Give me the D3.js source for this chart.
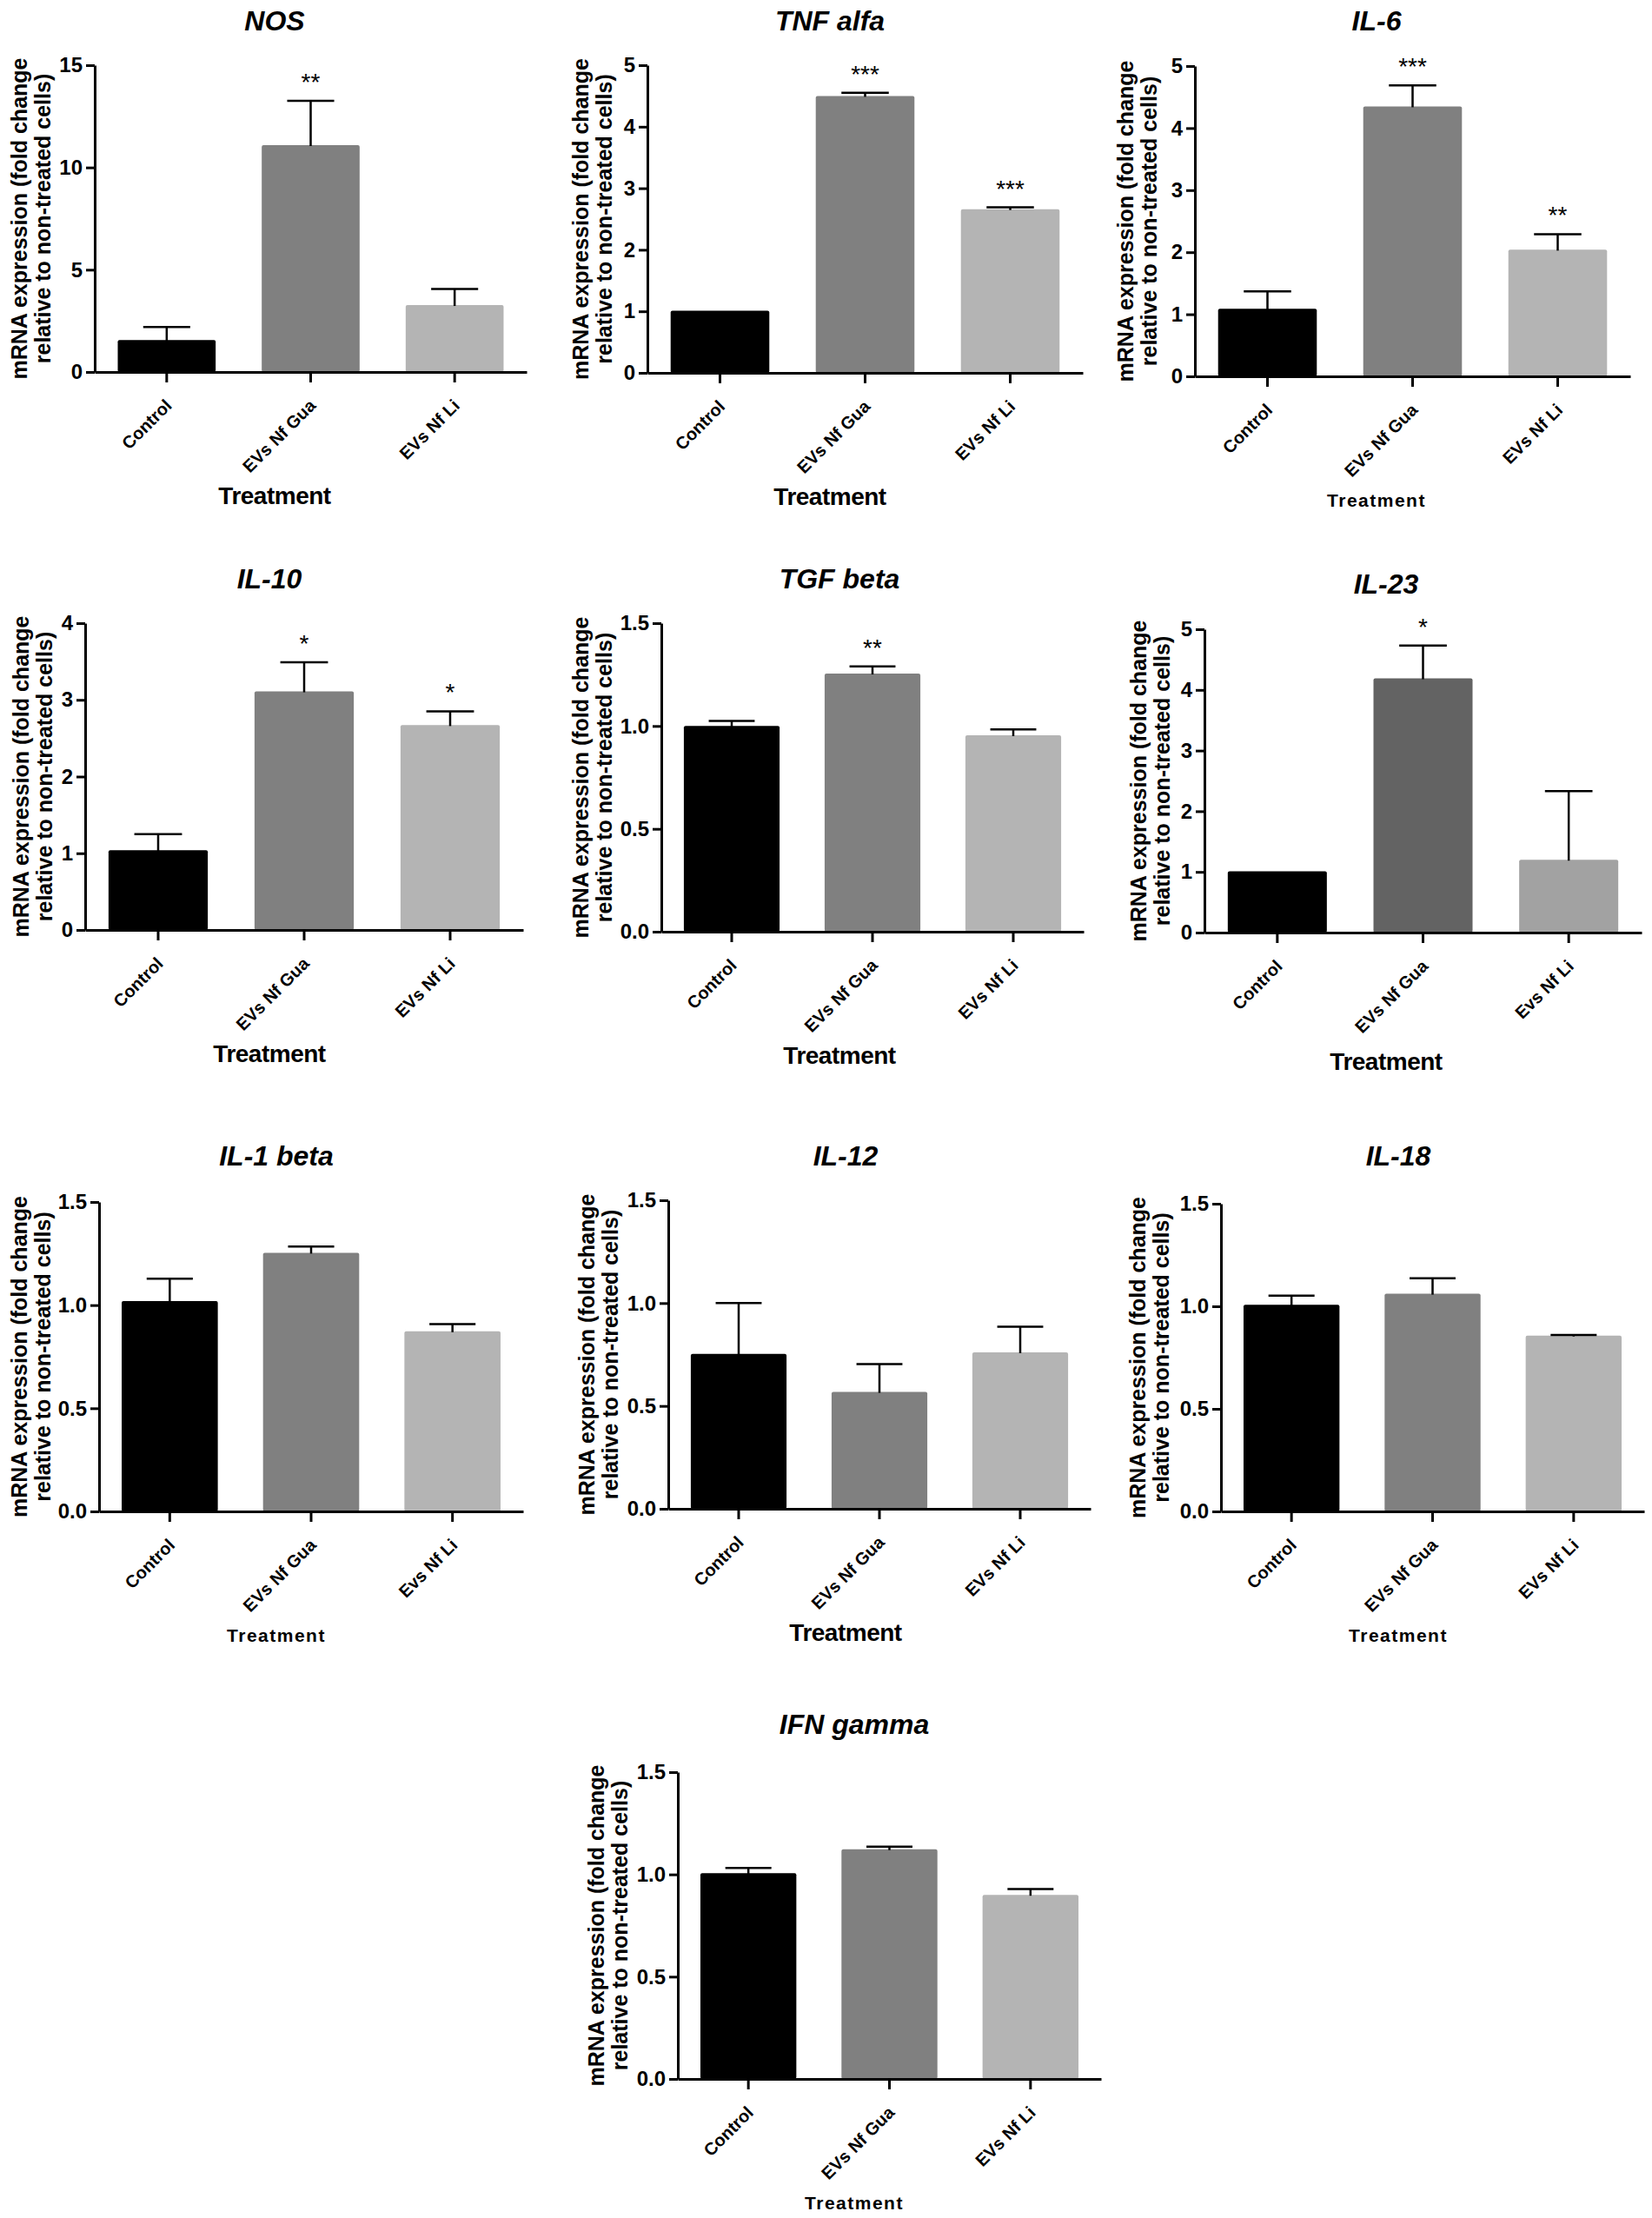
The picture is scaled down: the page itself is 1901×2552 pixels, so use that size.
<!DOCTYPE html>
<html><head><meta charset="utf-8">
<script src="https://cdn.jsdelivr.net/npm/d3@7"></script>
<style>
body{margin:0;background:#fff}
svg text{font-family:"Liberation Sans",Arial,Helvetica,sans-serif}
</style>
</head><body>
<svg id="chart" width="1901" height="2552"></svg>
<script>
// ---------- DATA ----------
const categories    = ["Control", "EVs Nf Gua", "EVs Nf Li"];
const categoriesAlt = ["Control", "EVs Nf Gua", "Evs Nf Li"];
const genes = ["NOS", "TNF alfa", "IL-6", "IL-10", "TGF beta", "IL-23", "IL-1 beta", "IL-12", "IL-18", "IFN gamma"];

const ticksNOS = [0, 5, 10, 15];
const ticks5   = [0, 1, 2, 3, 4, 5];
const ticks4   = [0, 1, 2, 3, 4];
const ticks15  = [0, 0.5, 1.0, 1.5];

const meanNOS = [1.56, 11.09, 3.27];   const semNOS = [0.64, 2.17, 0.79];   const sigNOS = ["", "**", ""];
const meanTNF = [1.01, 4.50, 2.66];    const semTNF = [0, 0.05, 0.03];      const sigTNF = ["", "***", "***"];
const meanIL6 = [1.09, 4.35, 2.04];    const semIL6 = [0.28, 0.34, 0.25];   const sigIL6 = ["", "***", "**"];
const meanIL10 = [1.04, 3.11, 2.67];   const semIL10 = [0.21, 0.38, 0.18];  const sigIL10 = ["", "*", "*"];
const meanTGF = [1.00, 1.255, 0.955];  const semTGF = [0.025, 0.035, 0.028]; const sigTGF = ["", "**", ""];
const meanIL23 = [1.01, 4.19, 1.20];   const semIL23 = [0, 0.54, 1.13];     const sigIL23 = ["", "*", ""];
const meanIL1b = [1.02, 1.254, 0.873]; const semIL1b = [0.108, 0.03, 0.035]; const sigIL1b = ["", "", ""];
const meanIL12 = [0.753, 0.568, 0.761]; const semIL12 = [0.247, 0.136, 0.124]; const sigIL12 = ["", "", ""];
const meanIL18 = [1.007, 1.061, 0.857]; const semIL18 = [0.045, 0.076, 0.003]; const sigIL18 = ["", "", ""];
const meanIFN = [1.006, 1.123, 0.90];  const semIFN = [0.025, 0.013, 0.028]; const sigIFN = ["", "", ""];

// table built from the arrays above
const dataByGene = {
  "NOS":       {cats: categories,    mean: meanNOS,  sem: semNOS,  sig: sigNOS,  ticks: ticksNOS, fmt: d3.format("d")},
  "TNF alfa":  {cats: categories,    mean: meanTNF,  sem: semTNF,  sig: sigTNF,  ticks: ticks5,   fmt: d3.format("d")},
  "IL-6":      {cats: categories,    mean: meanIL6,  sem: semIL6,  sig: sigIL6,  ticks: ticks5,   fmt: d3.format("d")},
  "IL-10":     {cats: categories,    mean: meanIL10, sem: semIL10, sig: sigIL10, ticks: ticks4,   fmt: d3.format("d")},
  "TGF beta":  {cats: categories,    mean: meanTGF,  sem: semTGF,  sig: sigTGF,  ticks: ticks15,  fmt: d3.format(".1f")},
  "IL-23":     {cats: categoriesAlt, mean: meanIL23, sem: semIL23, sig: sigIL23, ticks: ticks5,   fmt: d3.format("d")},
  "IL-1 beta": {cats: categoriesAlt, mean: meanIL1b, sem: semIL1b, sig: sigIL1b, ticks: ticks15,  fmt: d3.format(".1f")},
  "IL-12":     {cats: categories,    mean: meanIL12, sem: semIL12, sig: sigIL12, ticks: ticks15,  fmt: d3.format(".1f")},
  "IL-18":     {cats: categories,    mean: meanIL18, sem: semIL18, sig: sigIL18, ticks: ticks15,  fmt: d3.format(".1f")},
  "IFN gamma": {cats: categories,    mean: meanIFN,  sem: semIFN,  sig: sigIFN,  ticks: ticks15,  fmt: d3.format(".1f")}
};

// ---------- LAYOUT ----------
const greysStd  = ["#000000", "#808080", "#b4b4b4"];
const greysDark = ["#000000", "#636363", "#a2a2a2"];

const panels = [
  {gene:"NOS",       left:109,  right:606,  top:75,   zero:428,  cx:316,  titleY:35,   yl:49,   small:false, colors:greysStd},
  {gene:"TNF alfa",  left:745,  right:1246, top:75,   zero:429,  cx:955,  titleY:35,   yl:695,  small:false, colors:greysStd},
  {gene:"IL-6",      left:1375, right:1876, top:76,   zero:433,  cx:1584, titleY:35,   yl:1322, small:true,  colors:greysStd},
  {gene:"IL-10",     left:98,   right:602,  top:717,  zero:1070, cx:310,  titleY:677,  yl:51,   small:false, colors:greysStd},
  {gene:"TGF beta",  left:761,  right:1247, top:717,  zero:1072, cx:966,  titleY:677,  yl:695,  small:false, colors:greysStd},
  {gene:"IL-23",     left:1386, right:1889, top:724,  zero:1073, cx:1595, titleY:683,  yl:1337, small:false, colors:greysDark, tOff:6},
  {gene:"IL-1 beta", left:114,  right:602,  top:1383, zero:1739, cx:318,  titleY:1341, yl:49,   small:true,  colors:greysStd},
  {gene:"IL-12",     left:769,  right:1255, top:1381, zero:1736, cx:973,  titleY:1341, yl:702,  small:false, colors:greysStd},
  {gene:"IL-18",     left:1405, right:1892, top:1385, zero:1739, cx:1609, titleY:1341, yl:1336, small:true,  colors:greysStd},
  {gene:"IFN gamma", left:780,  right:1267, top:2039, zero:2392, cx:983,  titleY:1995, yl:713,  small:true,  colors:greysStd}
];

const svg = d3.select("#chart");
svg.append("rect").attr("width", 1901).attr("height", 2552).attr("fill", "#fff");

function drawPanel(p) {
  const d = dataByGene[p.gene];
  const g = svg.append("g");
  const x = d3.scaleBand().domain(d.cats).range([p.left, p.right]).paddingInner(0.32).paddingOuter(0.16);
  const y = d3.scaleLinear().domain([0, d.ticks[d.ticks.length - 1]]).range([p.zero, p.top]);
  const bw = x.bandwidth();

  // bars
  g.selectAll("rect.bar").data(d.cats).join("rect")
    .attr("class", "bar")
    .attr("x", c => x(c))
    .attr("width", bw)
    .attr("y", (c, i) => y(d.mean[i]))
    .attr("height", (c, i) => y(0) - y(d.mean[i]))
    .attr("rx", 2)
    .attr("fill", (c, i) => p.colors[i]);

  // error bars (upper only)
  const eb = d.cats.map((c, i) => ({c, m: d.mean[i], s: d.sem[i], sig: d.sig[i]}));
  const ebG = g.selectAll("g.err").data(eb.filter(e => e.s > 0)).join("g").attr("class", "err");
  ebG.append("line")
    .attr("x1", e => x(e.c) + bw / 2).attr("x2", e => x(e.c) + bw / 2)
    .attr("y1", e => y(e.m) + 1).attr("y2", e => y(e.m + e.s))
    .attr("stroke", "#000").attr("stroke-width", 2.5);
  ebG.append("line")
    .attr("x1", e => x(e.c) + bw / 2 - bw * 0.24).attr("x2", e => x(e.c) + bw / 2 + bw * 0.24)
    .attr("y1", e => y(e.m + e.s)).attr("y2", e => y(e.m + e.s))
    .attr("stroke", "#000").attr("stroke-width", 2.5);

  // significance stars
  g.selectAll("text.sig").data(eb.filter(e => e.sig)).join("text")
    .attr("class", "sig")
    .attr("x", e => x(e.c) + bw / 2)
    .attr("y", e => y(e.m + e.s) - 12)
    .attr("text-anchor", "middle")
    .attr("font-size", 28)
    .attr("fill", "#000")
    .text(e => e.sig);

  // y axis
  const yAxis = d3.axisLeft(y).tickValues(d.ticks).tickFormat(d.fmt)
    .tickSize(10).tickSizeOuter(0).tickPadding(4);
  const ya = g.append("g").attr("transform", `translate(${p.left},0)`).call(yAxis);
  ya.select(".domain").attr("stroke", "#000").attr("stroke-width", 3);
  ya.selectAll(".tick line").attr("stroke", "#000").attr("stroke-width", 3);
  ya.selectAll(".tick text").attr("font-size", 24).attr("font-weight", "bold").attr("fill", "#000")
    .attr("font-family", "'Liberation Sans',Arial,sans-serif");

  // x axis
  const xAxis = d3.axisBottom(x).tickSize(12).tickSizeOuter(0).tickPadding(0);
  const xa = g.append("g").attr("transform", `translate(0,${p.zero})`).call(xAxis);
  xa.select(".domain").attr("stroke", "#000").attr("stroke-width", 3);
  xa.selectAll(".tick line").attr("stroke", "#000").attr("stroke-width", 3);
  xa.selectAll(".tick text")
    .attr("font-size", 20).attr("font-weight", "bold").attr("fill", "#000")
    .attr("font-family", "'Liberation Sans',Arial,sans-serif")
    .attr("text-anchor", "end")
    .attr("x", 0).attr("y", 0).attr("dy", 0)
    .attr("transform", "translate(7,40) rotate(-45)");

  // title
  g.append("text")
    .attr("x", p.cx).attr("y", p.titleY)
    .attr("text-anchor", "middle")
    .attr("font-size", 32).attr("font-weight", "bold").attr("font-style", "italic")
    .attr("fill", "#000")
    .text(p.gene);

  // y label (two lines)
  const yc = (p.zero + p.top) / 2;
  const lines = ["mRNA expression (fold change", "relative to non-treated cells)"];
  lines.forEach((t, i) => {
    const xc = p.yl - 27 * (1 - i) + 9;
    g.append("text")
      .attr("transform", `translate(${xc},${yc}) rotate(-90)`)
      .attr("text-anchor", "middle")
      .attr("font-size", 25).attr("font-weight", "bold").attr("fill", "#000")
      .text(t);
  });

  // x label
  const fs = p.small ? 21 : 28;
  g.append("text")
    .attr("x", p.cx).attr("y", p.zero + 142 + (p.tOff || 0) + fs * 0.36)
    .attr("text-anchor", "middle")
    .attr("font-size", fs).attr("font-weight", "bold").attr("fill", "#000")
    .attr("letter-spacing", p.small ? 1.5 : -0.5)
    .text("Treatment");
}

panels.forEach(drawPanel);
</script>
</body></html>
